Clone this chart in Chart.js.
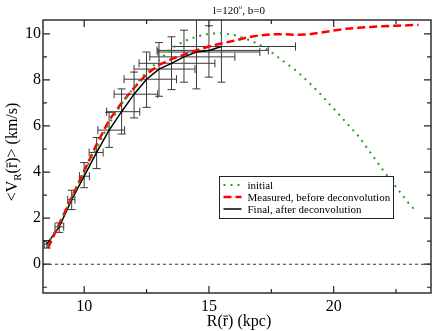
<!DOCTYPE html>
<html>
<head>
<meta charset="utf-8">
<script src="https://cdn.jsdelivr.net/npm/chart.js@4/dist/chart.umd.min.js"></script>
<style>
  body { margin: 0; background: #fff; }
  canvas { display: block; }
</style>
</head>
<body>
<canvas id="c" width="436" height="331"></canvas>
<script>
// axis ticks
var xTicks = [10, 15, 20]
var xMinor = [12.5, 17.5, 22.5]
var yTicks = [0, 2, 4, 6, 8, 10]
var yMinor = [-1, 1, 3, 5, 7, 9]

// initial model (green dotted)
var initR = [8.5, 9, 9.5, 10, 10.5, 11, 11.5, 12, 12.5, 13, 13.5, 14, 14.5, 15, 15.5, 16, 16.5, 17, 17.5, 18, 18.5, 19, 19.5, 20, 20.5, 21, 21.5, 22, 22.5, 23, 23.3]
var initV = [0.8, 1.75, 2.9, 4.0, 5.05, 6.1, 6.95, 7.7, 8.35, 8.85, 9.37, 9.68, 9.88, 10.0, 10.03, 9.95, 9.78, 9.55, 9.2, 8.8, 8.4, 7.9, 7.35, 6.75, 6.15, 5.55, 4.8, 4.05, 3.35, 2.65, 2.3]

// measured, before deconvolution (red dashed)
var measR = [8.55, 9, 9.5, 10, 10.5, 11, 11.5, 12, 12.5, 13, 13.5, 14, 14.5, 15, 15.5, 16, 16.5, 17, 17.5, 18, 18.5, 19, 19.5, 20, 20.5, 21, 21.5, 22, 22.5, 23, 23.4]
var measV = [0.7, 1.75, 2.9, 4.05, 5.2, 6.25, 7.0, 7.65, 8.25, 8.65, 8.9, 9.1, 9.28, 9.45, 9.58, 9.7, 9.83, 9.93, 9.98, 9.98, 9.96, 9.97, 10.06, 10.14, 10.22, 10.26, 10.3, 10.33, 10.35, 10.37, 10.39]

// final, after deconvolution (black, with error bars)
var finalR = [8.5, 9.0, 9.5, 10.0, 10.5, 11.0, 11.5, 12.0, 12.5, 13.0, 13.5, 14.0, 14.5, 15.0, 15.5]
var finalV = [0.87, 1.62, 2.8, 3.82, 4.85, 5.82, 6.62, 7.38, 8.03, 8.47, 8.72, 9.0, 9.21, 9.28, 9.45]
var finalRlo = [8.4, 8.83, 9.34, 9.81, 10.2, 10.55, 10.9, 11.2, 11.6, 12.0, 12.2, 12.63, 12.96, 12.92, 13.5]
var finalRhi = [8.6, 9.18, 9.63, 10.21, 10.76, 11.62, 12.23, 12.95, 13.7, 14.44, 15.24, 16.04, 17.04, 17.38, 18.47]
var finalVlo = [0.7, 1.38, 2.37, 3.32, 4.15, 5.07, 5.65, 6.35, 6.81, 7.29, 7.58, 7.9, 7.61, 8.12, 7.9]
var finalVhi = [1.03, 1.79, 3.21, 4.41, 5.5, 6.59, 7.61, 8.34, 9.21, 9.62, 9.87, 10.16, 10.8, 10.35, 11.0]

var SERIF = '"Liberation Serif", "DejaVu Serif", serif'

function pts(xs, ys) {
    return xs.map((x, i) => ({x: x, y: ys[i]}))
}

var errorBars = {
    id: 'errorBars',
    beforeDatasetsDraw(chart) {
        var c = chart.ctx, a = chart.chartArea
        var sx = chart.scales.x, sy = chart.scales.y
        c.save()
        c.beginPath()
        c.rect(a.left, a.top, a.right - a.left, a.bottom - a.top)
        c.clip()
        // zero line
        c.strokeStyle = '#000'
        c.lineWidth = 0.8
        c.setLineDash([3, 3])
        c.beginPath()
        c.moveTo(a.left, sy.getPixelForValue(0))
        c.lineTo(a.right, sy.getPixelForValue(0))
        c.stroke()
        c.setLineDash([])
        c.strokeStyle = '#3a3a3a'
        c.lineWidth = 1
        finalR.forEach((r, i) => {
            var px = sx.getPixelForValue(r), py = sy.getPixelForValue(finalV[i])
            var x0 = sx.getPixelForValue(finalRlo[i]), x1 = sx.getPixelForValue(finalRhi[i])
            var y0 = sy.getPixelForValue(finalVlo[i]), y1 = sy.getPixelForValue(finalVhi[i])
            c.beginPath()
            c.moveTo(px, y0); c.lineTo(px, y1)
            c.moveTo(px - 4, y0); c.lineTo(px + 4, y0)
            c.moveTo(px - 4, y1); c.lineTo(px + 4, y1)
            c.moveTo(x0, py); c.lineTo(x1, py)
            c.moveTo(x0, py - 4); c.lineTo(x0, py + 4)
            c.moveTo(x1, py - 4); c.lineTo(x1, py + 4)
            c.stroke()
        })
        c.restore()
    }
}

function drawRBar(c, x, y, size) {
    // "r" with an overline, returns width
    c.font = size + 'px ' + SERIF
    var w = c.measureText('r').width
    c.fillText('r', x, y)
    c.beginPath()
    c.lineWidth = 0.9
    c.moveTo(x + 0.5, y - size * 0.62)
    c.lineTo(x + w, y - size * 0.62)
    c.stroke()
    return w
}

var decorations = {
    id: 'decorations',
    afterDraw(chart) {
        var c = chart.ctx, a = chart.chartArea
        var sx = chart.scales.x, sy = chart.scales.y
        c.save()
        // frame and inside ticks
        c.strokeStyle = '#222'
        c.lineWidth = 1.4
        c.strokeRect(a.left, a.top, a.right - a.left, a.bottom - a.top)
        c.lineWidth = 1.2
        c.beginPath()
        xTicks.concat(xMinor).forEach(v => {
            var len = xTicks.includes(v) ? 7 : 4
            var p = sx.getPixelForValue(v)
            c.moveTo(p, a.bottom); c.lineTo(p, a.bottom - len)
            c.moveTo(p, a.top); c.lineTo(p, a.top + len)
        })
        yTicks.concat(yMinor).forEach(v => {
            var len = yTicks.includes(v) ? 7 : 4
            var p = sy.getPixelForValue(v)
            c.moveTo(a.left, p); c.lineTo(a.left + len, p)
            c.moveTo(a.right, p); c.lineTo(a.right - len, p)
        })
        c.stroke()

        c.fillStyle = '#000'
        c.strokeStyle = '#000'
        c.textBaseline = 'alphabetic'
        c.textAlign = 'left'

        // title  l=120°, b=0
        var cx = (a.left + a.right) / 2 + 2
        c.font = '11px ' + SERIF
        var t1 = 'l=120', t3 = ', b=0'
        var w1 = c.measureText(t1).width, w3 = c.measureText(t3).width
        c.font = '7px ' + SERIF
        var w2 = c.measureText('o').width
        var tx = cx - (w1 + w2 + w3) / 2
        c.font = '11px ' + SERIF
        c.fillText(t1, tx, 14)
        c.font = '7px ' + SERIF
        c.fillText('o', tx + w1, 9)
        c.font = '11px ' + SERIF
        c.fillText(t3, tx + w1 + w2, 14)

        // x title  R(r̄) (kpc)
        c.font = '16px ' + SERIF
        var xa = 'R(', xb = ') (kpc)'
        var wa = c.measureText(xa).width, wb = c.measureText(xb).width, wr = c.measureText('r').width
        var x = cx - (wa + wr + wb) / 2, y = 326
        c.fillText(xa, x, y)
        drawRBar(c, x + wa, y, 16)
        c.font = '16px ' + SERIF
        c.fillText(xb, x + wa + wr, y)

        // y title  <V_R(r̄)> (km/s)
        c.translate(17, 152)
        c.rotate(-Math.PI / 2)
        c.font = '16px ' + SERIF
        var s1 = '<V', s3 = '(', s5 = ')> (km/s)'
        var m1 = c.measureText(s1).width, m3 = c.measureText(s3).width
        var m4 = c.measureText('r').width, m5 = c.measureText(s5).width
        c.font = '11px ' + SERIF
        var m2 = c.measureText('R').width
        var total = m1 + m2 + m3 + m4 + m5
        x = -total / 2
        c.font = '16px ' + SERIF
        c.fillText(s1, x, 0); x += m1
        c.font = '11px ' + SERIF
        c.fillText('R', x, 4); x += m2
        c.font = '16px ' + SERIF
        c.fillText(s3, x, 0); x += m3
        drawRBar(c, x, 0, 16); x += m4
        c.font = '16px ' + SERIF
        c.fillText(s5, x, 0)
        c.restore()

        // legend
        c.save()
        var lx = 219.5, ly = 176.5, lw = 174, lh = 42
        c.fillStyle = '#fff'
        c.fillRect(lx, ly, lw, lh)
        c.strokeStyle = '#222'
        c.lineWidth = 1
        c.strokeRect(lx, ly, lw, lh)
        var rows = [185, 197, 209]
        chart.data.datasets.forEach((ds, i) => {
            c.strokeStyle = ds.borderColor
            c.lineWidth = ds.borderWidth
            c.setLineDash(ds.borderDash || [])
            c.beginPath()
            c.moveTo(lx + 4, rows[i]); c.lineTo(lx + 22, rows[i])
            c.stroke()
            c.setLineDash([])
            c.fillStyle = '#000'
            c.font = '11px ' + SERIF
            c.textBaseline = 'middle'
            c.fillText(ds.label, lx + 28, rows[i] + 1)
        })
        c.restore()
    }
}

var chart = new Chart(document.getElementById('c').getContext('2d'), {
    type: 'scatter',
    data: {
        datasets: [
            {
                label: 'initial',
                data: pts(initR, initV),
                showLine: true,
                borderColor: '#1fa21f',
                borderWidth: 2,
                borderDash: [2, 5],
                pointRadius: 0
            },
            {
                label: 'Measured, before deconvolution',
                data: pts(measR, measV),
                showLine: true,
                borderColor: '#ff0000',
                borderWidth: 2.5,
                borderDash: [8, 4],
                pointRadius: 0
            },
            {
                label: 'Final, after deconvolution',
                data: pts(finalR, finalV),
                showLine: true,
                borderColor: '#000',
                borderWidth: 1.5,
                pointRadius: 0
            }
        ]
    },
    options: {
        responsive: false,
        animation: false,
        layout: { padding: { top: 20, right: 5, left: 0, bottom: 0 } },
        plugins: {
            legend: { display: false },
            title: { display: false },
            tooltip: { enabled: false }
        },
        scales: {
            x: {
                type: 'linear',
                min: 8.35,
                max: 23.9,
                grid: { display: false, drawTicks: false },
                border: { display: false },
                afterBuildTicks: s => { s.ticks = xTicks.map(v => ({ value: v })) },
                afterFit: s => { s.height = 38 },
                ticks: { color: '#000', padding: 4, maxRotation: 0, font: { family: SERIF, size: 16 } }
            },
            y: {
                type: 'linear',
                min: -1.25,
                max: 10.6,
                grid: { display: false, drawTicks: false },
                border: { display: false },
                afterBuildTicks: s => { s.ticks = yTicks.map(v => ({ value: v })) },
                afterFit: s => { s.width = 43 },
                ticks: { color: '#000', padding: 2, font: { family: SERIF, size: 16 } }
            }
        }
    },
    plugins: [errorBars, decorations]
})
</script>
</body>
</html>
